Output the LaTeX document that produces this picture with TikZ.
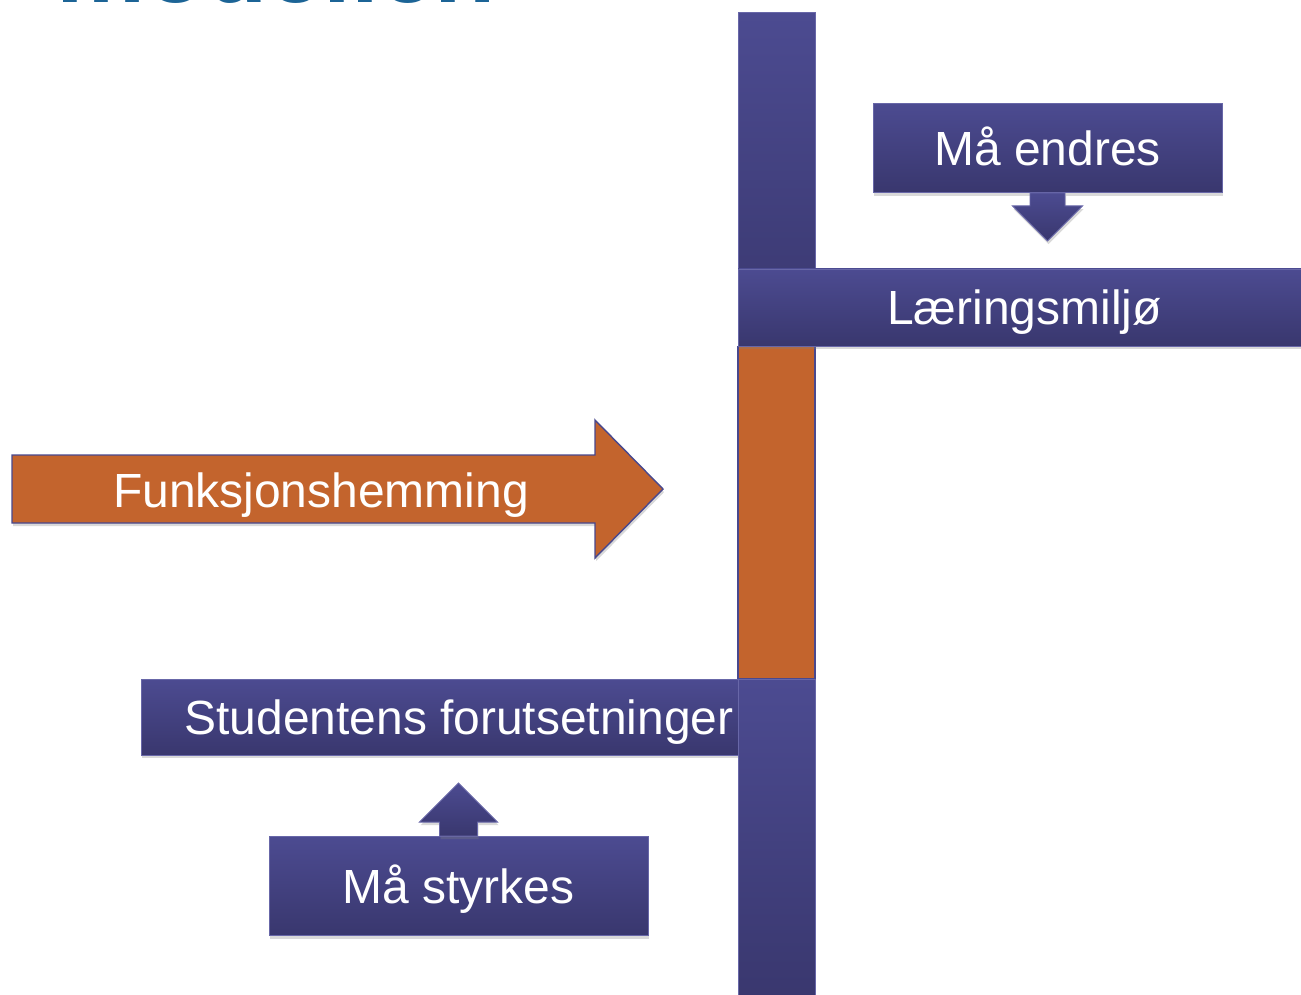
\documentclass[tikz,border=0pt]{standalone}
\usepackage{fontspec}
\setmainfont{Liberation Sans}
\usetikzlibrary{positioning, shadows}
\definecolor{bartop}{RGB}{76,75,145}
\definecolor{barbot}{RGB}{57,55,110}
\definecolor{barline}{RGB}{104,103,168}
\definecolor{orangefill}{RGB}{195,100,45}
\definecolor{orangeline}{RGB}{72,72,142}
\definecolor{titleblue}{RGB}{28,100,150}
\tikzstyle{block} = [rectangle, inner sep=0pt, text height=19.5pt, text depth=0pt, font=\fontsize{27.3}{32}\selectfont, text=white]
\tikzstyle{softshadow} = [drop shadow={shadow xshift=0.6pt, shadow yshift=-1.8pt, opacity=0.3}]
\tikzstyle{bar} = [block, softshadow, top color=bartop, bottom color=barbot, draw=barline, line width=0.5pt]
\tikzstyle{orangebar} = [block, softshadow, fill=orangefill, draw=orangeline, line width=0.6pt]
\tikzstyle{blockarrow} = [softshadow, top color=bartop, bottom color=barbot, draw=barline, line width=0.5pt]
\tikzstyle{orangearrow} = [softshadow, fill=orangefill, draw=orangeline, line width=0.8pt, line join=miter]
\tikzstyle{heading} = [anchor=base west, inner sep=0pt, font=\fontsize{57}{60}\selectfont\bfseries, text=titleblue]

\begin{document}
\begin{tikzpicture}[x=0.02cm, y=-0.02cm]
    \path [use as bounding box, clip] (0,0) rectangle (1301,994);
    \node (title) [heading] at (56,2) {modellen};

    % The cross.
    \node (top) [bar, minimum width=1.54cm, minimum height=6.68cm] at (776.5,179) {};
    \node (hemming) [orangebar, below=0mm of top, minimum width=1.54cm, minimum height=6.64cm] {};
    \node (miljo) [bar, anchor=south west, minimum width=11.46cm, minimum height=1.54cm] at (top.south west) {Læringsmiljø};
    \node (student) [bar, minimum width=12.72cm, minimum height=1.52cm] at (459,717) {Studentens forutsetninger};
    \node (low) [bar, below=0mm of hemming, minimum width=1.54cm, minimum height=6.44cm] {};

    % Boxes.
    \node (endres) [bar, minimum width=6.98cm, minimum height=1.78cm] at (1047.5,148) {Må endres};
    \node (styrkes) [bar, minimum width=7.58cm, minimum height=1.98cm] at (458.5,886) {Må styrkes};

    % Arrows.
    \draw [orangearrow] (12,455) -- (595,455) -- (595,420) -- (663,489) -- (595,558) -- (595,523) -- (12,523) -- cycle;
    \node (funk) [block] at (321,490) {Funksjonshemming};
    \draw [blockarrow] (endres.south) ++(-17.5,0) -- ++(0,13) -- ++(-17.5,0) -- ++(35,35) -- ++(35,-35) -- ++(-17.5,0) -- ++(0,-13) -- cycle;
    \draw [blockarrow] (styrkes.north) ++(-19,0) -- ++(0,-14) -- ++(-20,0) -- ++(39,-39) -- ++(39,39) -- ++(-20,0) -- ++(0,14) -- cycle;
\end{tikzpicture}
\end{document}
